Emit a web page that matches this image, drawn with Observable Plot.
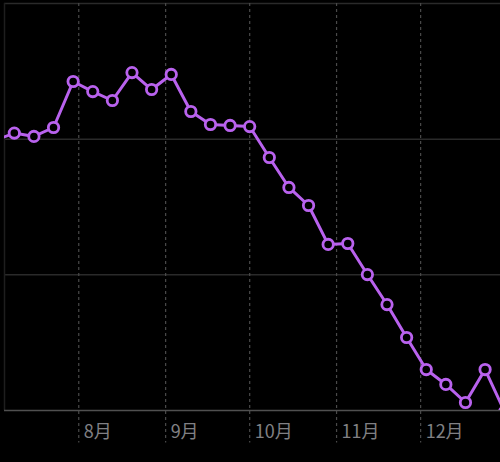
<!DOCTYPE html>
<html>
<head>
<meta charset="utf-8">
<script src="https://cdn.jsdelivr.net/npm/d3@7"></script>
<script src="https://cdn.jsdelivr.net/npm/@observablehq/plot@0.6"></script>
<style>
  html, body { margin: 0; padding: 0; background: #000; }
  #chart { width: 500px; height: 462px; }
</style>
</head>
<body>
<div id="chart"></div>
<script>
// Weekly values (arbitrary units; y grid lines at 10, 20, 30)
const weeks = [
  "2023-07-02","2023-07-09","2023-07-16","2023-07-23","2023-07-30",
  "2023-08-06","2023-08-13","2023-08-20","2023-08-27",
  "2023-09-03","2023-09-10","2023-09-17","2023-09-24",
  "2023-10-01","2023-10-08","2023-10-15","2023-10-22","2023-10-29",
  "2023-11-05","2023-11-12","2023-11-19","2023-11-26",
  "2023-12-03","2023-12-10","2023-12-17","2023-12-24","2023-12-31"
];
const values = [
  19.9, 20.45, 20.2, 20.86, 24.25,
  23.51, 22.85, 24.91, 23.66,
  24.77, 22.04, 21.08, 21.01,
  20.93, 18.65, 16.44, 15.11, 12.24,
  12.31, 10.02, 7.81, 5.38,
  3.02, 1.92, 0.59, 3.02, -0.1
];
const monthStarts = ["2023-08-01","2023-09-01","2023-10-01","2023-11-01","2023-12-01"];
const monthLabels = ["8月","9月","10月","11月","12月"];
const gridValues = [10, 20, 30];

const data = weeks.map((d, i) => ({date: new Date(d + "T00:00:00Z"), value: values[i]}));
const months = monthStarts.map((d, i) => ({date: new Date(d + "T00:00:00Z"), label: monthLabels[i]}));
const purple = "#b962ee";

const chart = Plot.plot({
  width: 500,
  height: 462,
  marginLeft: 4,
  marginRight: 0,
  marginTop: 3,
  marginBottom: 52,
  style: {background: "#000", overflow: "visible"},
  x: {type: "utc", domain: [new Date("2023-07-05T12:00:00Z"), new Date("2023-12-29T12:00:00Z")], axis: null},
  y: {domain: [0, 30], axis: null},
  marks: [
    Plot.ruleY(gridValues, {stroke: "#2a2a2a", strokeWidth: 1.5}),
    Plot.ruleX([new Date("2023-07-05T12:00:00Z")], {y1: 0, y2: 30, stroke: "#1e1e1e", strokeWidth: 1.5}),
    Plot.ruleX(months, {x: "date", y1: 30, y2: -2.4, stroke: "#4a4a4a", strokeWidth: 1.2, strokeDasharray: "3,3"}),
    Plot.ruleY([0], {stroke: "#505050", strokeWidth: 1.5}),
    Plot.text(months, {x: "date", y: -1.62, text: "label", dx: 5, textAnchor: "start", fill: "#808084", fontSize: 18, fontFamily: "'Noto Sans CJK SC', 'Noto Sans', sans-serif"}),
    Plot.line(data, {x: "date", y: "value", stroke: purple, strokeWidth: 3, clip: true}),
    Plot.dot(data, {x: "date", y: "value", r: 5.2, fill: "#000", stroke: purple, strokeWidth: 2.8, clip: true})
  ]
});
document.getElementById("chart").appendChild(chart);
</script>
</body>
</html>
